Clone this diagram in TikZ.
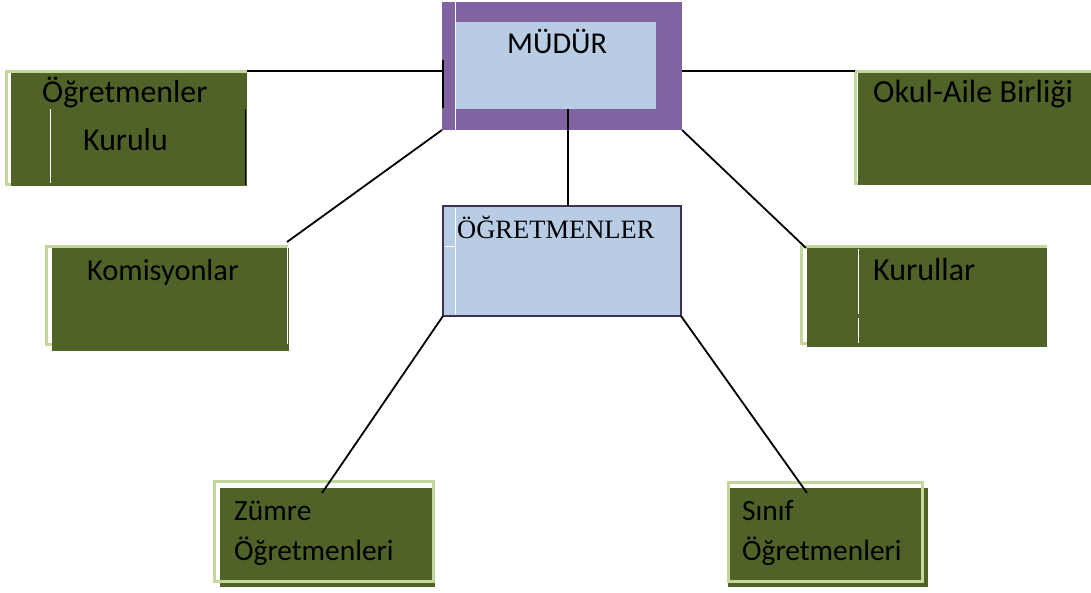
\documentclass[tikz,border=0pt]{standalone}
\usepackage{fontspec}
\newfontfamily\calib{Carlito}
\newfontfamily\tms{Liberation Serif}
\definecolor{dkgreen}{HTML}{4F6228}
\definecolor{lgreen}{HTML}{C3D69B}
\definecolor{mpurple}{HTML}{8064A2}
\definecolor{lblue}{HTML}{B8CCE4}
\definecolor{dpurple}{HTML}{3F3151}
\newcommand{\fsz}[1]{\fontsize{#1}{#1}\selectfont}
\begin{document}
\begin{tikzpicture}[x=1pt,y=-1pt,
  box/.style={inner sep=0pt,outer sep=0pt,anchor=north west},
  darkbox/.style={box,fill=dkgreen},
  lgframe/.style={draw=lgreen,line width=3pt},
  lbl/.style={font=\calib\fsz{31},text=black,anchor=base west,inner sep=0pt},
  conn/.style={draw=black,line width=1.8pt},
  artline/.style={draw=white,line width=1pt}]
\useasboundingbox (0,0) rectangle (1091,592);

% ---- MUDUR ----
\node[box,fill=mpurple,minimum width=240pt,minimum height=128pt] (mudur) at (442,2) {};
\node[box,fill=lblue,minimum width=200pt,minimum height=87pt] (mudurin) at (456,22) {};
\draw[artline] (455,2) -- (455,130);
\node[lbl,font=\calib\fsz{30.3}] (tm) at (507,53) {MÜDÜR};

% ---- OGRETMENLER ----
\node[box,fill=lblue,draw=dpurple,line width=2.5pt,minimum width=238pt,minimum height=110pt] (ogr) at (443,206) {};
\draw[artline] (455,208) -- (455,314);
\draw[artline] (445,246) -- (455,246);
\node[lbl,font=\tms\fsz{26.5}] (to) at (457,238) {ÖĞRETMENLER};

% ---- Ogretmenler Kurulu ----
\draw[lgframe,fill=white] (6.5,71.5) rectangle (245,184);
\node[darkbox,minimum width=236pt,minimum height=113pt] (kurulu) at (11,73) {};
\draw[artline] (50,109) -- (50,183);
\node[lbl,font=\calib\fsz{31.8}] (tk1) at (42,102) {Öğretmenler};
\node[lbl,font=\calib\fsz{31.8}] (tk2) at (83,150) {Kurulu};

% ---- Okul-Aile Birligi ----
\draw[lgframe,fill=white] (855.5,71.5) rectangle (1089,183);
\node[darkbox,minimum width=233pt,minimum height=112pt] (okul) at (858,73) {};
\node[lbl,font=\calib\fsz{32.2}] (tok) at (873,102) {Okul-Aile Birliği};

% ---- Komisyonlar ----
\draw[lgframe,fill=white] (46.5,246.5) rectangle (286,344);
\node[darkbox,minimum width=237pt,minimum height=103pt] (komis) at (52,248) {};
\draw[artline] (287,247) -- (287,344);
\node[lbl,font=\calib\fsz{30.4}] (tko) at (87,280) {Komisyonlar};

% ---- Kurullar ----
\draw[lgframe,fill=white] (801.5,246.5) rectangle (1045,343);
\node[darkbox,minimum width=240pt,minimum height=99pt] (kurullar) at (807,248) {};
\draw[artline] (858,249) -- (858,314);
\draw[artline] (858,318) -- (858,343);
\node[lbl,font=\calib\fsz{32}] (tku) at (873,280) {Kurullar};

% ---- Zumre Ogretmenleri ----
\node[darkbox,minimum width=215pt,minimum height=99pt] (zumre) at (220,488) {};
\draw[lgframe] (214.5,481.5) rectangle (433.5,581.5);
\node[lbl,font=\calib\fsz{29.4}] (tz1) at (234,520) {Zümre};
\node[lbl,font=\calib\fsz{29.4}] (tz2) at (234,560) {Öğretmenleri};

% ---- Sinif Ogretmenleri ----
\node[darkbox,minimum width=200pt,minimum height=99pt] (sinif) at (728,488) {};
\draw[lgframe] (728.5,482.5) rectangle (922.5,581.5);
\node[lbl,font=\calib\fsz{29.4}] (ts1) at (742,520) {Sınıf};
\node[lbl,font=\calib\fsz{29.4}] (ts2) at (742,560) {Öğretmenleri};

% ---- connectors ----
\coordinate (kR) at (247,71);
\coordinate (mL) at (443,71);
\coordinate (mR) at (682,71);
\coordinate (oL) at (855,71);
\coordinate (mB) at (568,109);
\coordinate (kmTR) at (287,242);
\coordinate (kuTL) at (806,248);
\coordinate (zT) at (322,493);
\coordinate (sT) at (807,493);
\draw[conn] (kR) -- (mL);
\draw[conn] (443,60) -- (443,108);
\draw[conn] (245.5,109) -- (245.5,185);
\draw[conn] (mR) -- (oL);
\draw[conn] (mB) -- (mB |- ogr.north);
\draw[conn] (mudur.south west) -- (kmTR);
\draw[conn] (mudur.south east) -- (kuTL);
\draw[conn] (ogr.south west) -- (zT);
\draw[conn] (ogr.south east) -- (sT);
\end{tikzpicture}
\end{document}
